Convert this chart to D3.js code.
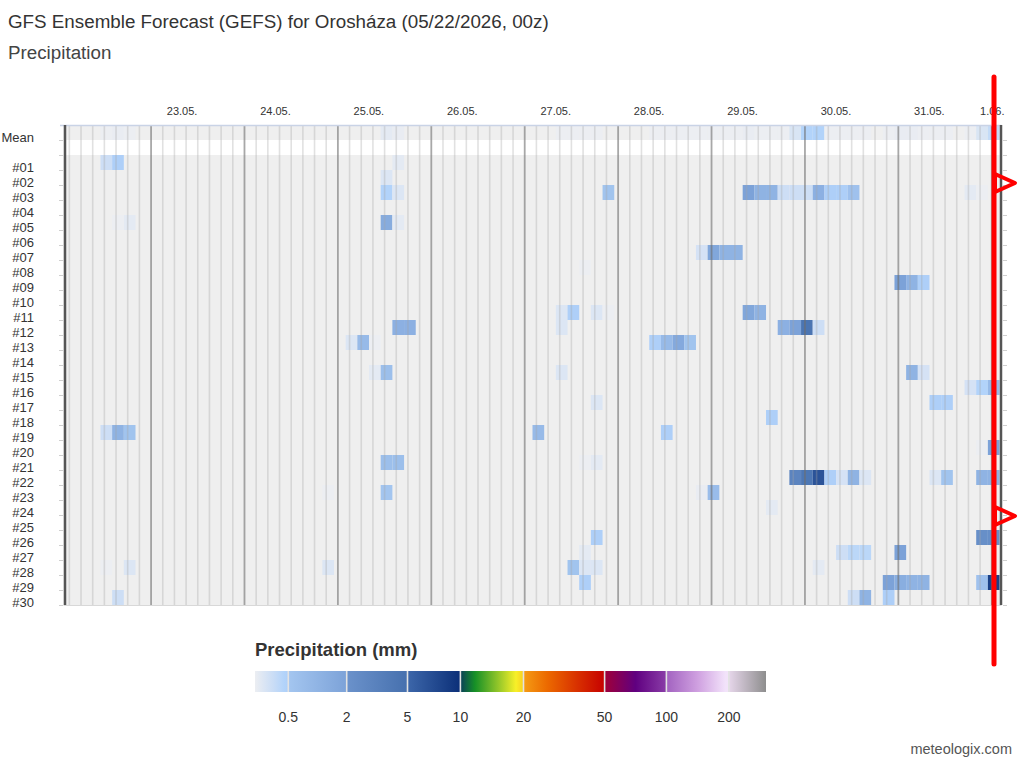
<!DOCTYPE html>
<html><head><meta charset="utf-8">
<script src="https://cdn.jsdelivr.net/npm/d3@7"></script>
<style>
body{margin:0;background:#fff;}
svg{display:block;font-family:"Liberation Sans",Arial,Helvetica,sans-serif;}
</style>
</head><body>
<svg id="chart" width="1024" height="764"></svg>
<script>
// ---------------- DATA ----------------
const titleText = "GFS Ensemble Forecast (GEFS) for Orosháza (05/22/2026, 00z)";
const subtitleText = "Precipitation";
const runTimeUTC = Date.UTC(2026, 4, 22, 0);   // 00z run
const utcOffsetHours = 2;                        // local time (CEST)
const memberNames = ["#01","#02","#03","#04","#05","#06","#07","#08","#09","#10",
  "#11","#12","#13","#14","#15","#16","#17","#18","#19","#20",
  "#21","#22","#23","#24","#25","#26","#27","#28","#29","#30"];

// 3-hourly precipitation (mm), [forecast hour at end of interval, value]
const meanPrecip = [[12,0.05],[15,0.12],[18,0.05],[84,0.15],[87,0.12],
  [129,0.04],[132,0.05],[135,0.05],[138,0.05],[153,0.04],[156,0.05],[159,0.05],[162,0.04],
  [165,0.05],[168,0.08],[171,0.06],[174,0.06],[177,0.12],[180,0.1],[183,0.1],[186,0.1],
  [189,0.22],[192,0.45],[195,0.45],[198,0.08],[201,0.06],[204,0.1],[207,0.08],
  [213,0.08],[216,0.12],[219,0.12],[222,0.1],[225,0.05],[228,0.05],[234,0.05],[237,0.22],[240,0.35]];

const memberPrecip = [
  /*#01*/ [[12,0.3],[15,0.5],[87,0.15]],
  /*#02*/ [[84,0.2]],
  /*#03*/ [[84,0.45],[87,0.2],[141,0.6],[177,2.0],[180,1.3],[183,1.3],[186,0.3],[189,0.3],[192,0.3],[195,1.4],[198,0.5],[201,0.5],[204,0.7],[234,0.15],[237,0.1]],
  /*#04*/ [],
  /*#05*/ [[15,0.08],[18,0.15],[84,1.6],[87,0.15]],
  /*#06*/ [],
  /*#07*/ [[165,0.25],[168,1.8],[171,1.3],[174,1.3]],
  /*#08*/ [[135,0.05]],
  /*#09*/ [[216,2.0],[219,1.3],[222,0.5]],
  /*#10*/ [],
  /*#11*/ [[129,0.2],[132,0.5],[138,0.2],[141,0.08],[177,1.8],[180,1.3]],
  /*#12*/ [[87,1.4],[90,1.4],[129,0.2],[186,1.4],[189,2.0],[192,4.6],[195,0.3]],
  /*#13*/ [[75,0.2],[78,1.0],[81,0.1],[153,0.5],[156,1.0],[159,1.7],[162,0.6]],
  /*#14*/ [],
  /*#15*/ [[81,0.15],[84,0.8],[129,0.2],[219,1.3],[222,0.25]],
  /*#16*/ [[234,0.25],[237,0.45],[240,1.0]],
  /*#17*/ [[138,0.2],[225,0.5],[228,0.5]],
  /*#18*/ [[183,0.5]],
  /*#19*/ [[12,0.3],[15,1.3],[18,0.6],[123,1.0],[156,0.5]],
  /*#20*/ [[237,0.05],[240,2.0]],
  /*#21*/ [[84,0.8],[87,0.8],[135,0.08],[138,0.15]],
  /*#22*/ [[189,3.2],[192,4.4],[195,6.8],[198,0.5],[201,0.25],[204,1.3],[207,0.2],[225,0.2],[228,0.6],[237,1.3],[240,1.3]],
  /*#23*/ [[69,0.05],[84,0.55],[165,0.12],[168,0.9]],
  /*#24*/ [[183,0.15]],
  /*#25*/ [],
  /*#26*/ [[138,0.5],[237,2.3],[240,2.3]],
  /*#27*/ [[135,0.15],[201,0.3],[204,0.4],[207,0.4],[216,2.0]],
  /*#28*/ [[12,0.1],[18,0.2],[69,0.2],[132,0.6],[135,0.2],[138,0.2],[195,0.15]],
  /*#29*/ [[135,0.5],[213,2.0],[216,1.5],[219,1.3],[222,1.3],[237,0.7],[240,8.5]],
  /*#30*/ [[15,0.3],[204,0.3],[207,1.3],[213,0.5]]
];

// colour legend
const legendTitle = "Precipitation (mm)";
const legendTicks = [0.5, 2, 5, 10, 20, 50, 100, 200];
const legendBreaks = [0.1, 0.5, 2, 5, 10, 20, 50, 100, 200, 400];
const colorStops = [
  [0.1,"#eceef2"],[0.33,"#c8dcf6"],[0.45,"#b2d3fa"],[0.5,"#aecff8"],
  [0.501,"#a4c6f0"],[2,"#7ca2d8"],
  [2.001,"#6b92cb"],[5,"#4670ae"],
  [5.001,"#3d67aa"],[10,"#0b2f78"],
  [10.001,"#0a4058"],[12.3,"#169027"],[16.6,"#a8cf2a"],[18.8,"#f8f028"],[20,"#f8d020"],
  [20.001,"#f59c14"],[28.7,"#ec6a00"],[40,"#d83000"],[50,"#c60000"],
  [50.001,"#a00038"],[75,"#600080"],[100,"#8a3da8"],
  [100.001,"#a262c0"],[150,"#cfa0e0"],[194,"#f2e2fa"],[200,"#f2e4f8"],
  [200.001,"#e6d6ea"],[400,"#8e8e8e"]
];
const creditText = "meteologix.com";

// ---------------- LAYOUT ----------------
const svg = d3.select("#chart");
const H = 3600e3;
const plotTop = 125, plotBottom = 605;
const x = d3.scaleUtc()
  .domain([new Date(runTimeUTC - 0.5*H), new Date(runTimeUTC + 240.5*H)])
  .range([63.5, 1001.5]);
const rowKeys = ["Mean", "gap", ...memberNames];
const y = d3.scaleBand().domain(rowKeys).range([plotTop, plotBottom]);

const legendPos = d3.scaleLinear().domain(legendBreaks)
  .range([255, 288.3, 346.7, 407.5, 460.4, 523.5, 604.6, 666.4, 728.9, 766]).clamp(true);
const colorByPos = d3.scaleLinear()
  .domain(colorStops.map(s => legendPos(s[0])))
  .range(colorStops.map(s => s[1])).clamp(true);
const color = v => colorByPos(legendPos(v));

// titles
svg.append("text").attr("x", 8).attr("y", 28).attr("font-size", 18.8).attr("fill", "#333").text(titleText);
svg.append("text").attr("x", 8).attr("y", 59).attr("font-size", 18.8).attr("fill", "#444").text(subtitleText);

// backgrounds
const g = svg.append("g");
g.append("rect").attr("x", x.range()[0]).attr("width", x.range()[1]-x.range()[0])
  .attr("y", y("Mean")).attr("height", y.bandwidth()).attr("fill", "#efefef");
g.append("rect").attr("x", x.range()[0]).attr("width", x.range()[1]-x.range()[0])
  .attr("y", y("gap")).attr("height", y.bandwidth()).attr("fill", "#ffffff");
g.append("rect").attr("x", x.range()[0]).attr("width", x.range()[1]-x.range()[0])
  .attr("y", y(memberNames[0])).attr("height", plotBottom - y(memberNames[0])).attr("fill", "#efefef");

// cells
function drawRow(key, data) {
  g.append("g").selectAll("rect").data(data.filter(d => d[1] > 0)).join("rect")
    .attr("x", d => x(new Date(runTimeUTC + (d[0]-3)*H)))
    .attr("width", d => x(new Date(runTimeUTC + d[0]*H)) - x(new Date(runTimeUTC + (d[0]-3)*H)))
    .attr("y", y(key)).attr("height", y.bandwidth())
    .attr("fill", d => color(d[1]));
}
drawRow("Mean", meanPrecip);
memberPrecip.forEach((row, i) => drawRow(memberNames[i], row));

// grid lines every 3 h local time, day lines at local midnight
const gridTimes = d3.utcHour.every(3).range(new Date(runTimeUTC), new Date(runTimeUTC + 241*H))
  .map(d => new Date(+d - utcOffsetHours*H)).filter(d => d >= x.domain()[0] && d <= x.domain()[1]);
const isMidnight = d => new Date(+d + utcOffsetHours*H).getUTCHours() === 0;
g.append("g").selectAll("line").data(gridTimes.filter(d => !isMidnight(d))).join("line")
  .attr("x1", d => x(d)).attr("x2", d => x(d)).attr("y1", plotTop).attr("y2", plotBottom)
  .attr("stroke", "rgba(165,165,165,0.33)").attr("stroke-width", 1.6);
const dayLines = gridTimes.filter(isMidnight);
g.append("g").selectAll("line").data(dayLines).join("line")
  .attr("x1", d => x(d)).attr("x2", d => x(d)).attr("y1", plotTop).attr("y2", plotBottom)
  .attr("stroke", "rgba(110,110,110,0.6)").attr("stroke-width", 1.8);

// borders
g.append("line").attr("x1", 60).attr("x2", x.range()[1]).attr("y1", plotTop+0.5).attr("y2", plotTop+0.5)
  .attr("stroke", "#c9d3e6").attr("stroke-width", 1.5);
g.append("line").attr("x1", x.range()[0]).attr("x2", x.range()[1]).attr("y1", plotBottom+0.5).attr("y2", plotBottom+0.5)
  .attr("stroke", "#d8d8d8").attr("stroke-width", 1);
g.append("line").attr("x1", 65).attr("x2", 65).attr("y1", plotTop).attr("y2", plotBottom)
  .attr("stroke", "#555").attr("stroke-width", 2.5);
g.append("line").attr("x1", 1001).attr("x2", 1001).attr("y1", plotTop).attr("y2", plotBottom)
  .attr("stroke", "#555").attr("stroke-width", 2.5);

// row ticks on both sides
const rowEdges = rowKeys.slice(1).map(k => y(k)).concat([plotBottom]);
g.append("g").selectAll("line").data(rowEdges).join("line")
  .attr("x1", 59).attr("x2", 63).attr("y1", d => d+0.5).attr("y2", d => d+0.5)
  .attr("stroke", "#cfcfcf").attr("stroke-width", 1);
g.append("g").selectAll("line").data(rowEdges).join("line")
  .attr("x1", 1003).attr("x2", 1007).attr("y1", d => d+0.5).attr("y2", d => d+0.5)
  .attr("stroke", "#cfcfcf").attr("stroke-width", 1);

// row labels
const labelKeys = ["Mean", ...memberNames];
svg.append("g").selectAll("text").data(labelKeys).join("text")
  .attr("x", 34).attr("y", d => y(d) + 16.5).attr("text-anchor", "end")
  .attr("font-size", 13).attr("fill", "#333").text(d => d);

// date labels
const fmt = d3.utcFormat("%-d.%m.");
svg.append("g").selectAll("text").data(dayLines).join("text")
  .attr("font-size", 11).attr("fill", "#333").attr("y", 115)
  .attr("x", d => Math.min(x(d) + 31, 1004.5))
  .attr("text-anchor", d => x(d) + 31 > 1004.5 ? "end" : "middle")
  .text(d => fmt(new Date(+d + utcOffsetHours*H)));

// legend
svg.append("text").attr("x", 255).attr("y", 656).attr("font-size", 18.5).attr("font-weight", "bold")
  .attr("fill", "#333").text(legendTitle);
const grad = svg.append("defs").append("linearGradient").attr("id", "lg")
  .attr("x1", "0%").attr("x2", "100%").attr("y1", "0%").attr("y2", "0%");
const l0 = legendPos.range()[0], l1 = legendPos.range()[legendPos.range().length-1];
colorStops.forEach(s => grad.append("stop")
  .attr("offset", ((legendPos(s[0]) - l0) / (l1 - l0) * 100) + "%").attr("stop-color", s[1]));
svg.append("rect").attr("x", l0).attr("y", 671).attr("width", l1 - l0).attr("height", 21).attr("fill", "url(#lg)");
svg.append("g").selectAll("line").data(legendTicks).join("line")
  .attr("x1", d => legendPos(d)).attr("x2", d => legendPos(d)).attr("y1", 671).attr("y2", 692)
  .attr("stroke", "#e2e2e2").attr("stroke-width", 1.6);
svg.append("g").selectAll("text").data(legendTicks).join("text")
  .attr("x", d => legendPos(d)).attr("y", 722).attr("text-anchor", "middle")
  .attr("font-size", 14).attr("fill", "#333").text(d => d);

svg.append("text").attr("x", 1012).attr("y", 754).attr("text-anchor", "end")
  .attr("font-size", 14.5).attr("fill", "#555").text(creditText);

// red annotation overlay
const ann = svg.append("g").attr("stroke", "#ff0000").attr("fill", "none");
ann.append("line").attr("x1", 994).attr("x2", 994).attr("y1", 77).attr("y2", 664)
  .attr("stroke-width", 5).attr("stroke-linecap", "round");
[183, 516].forEach(cy => ann.append("path")
  .attr("d", `M995,${cy-9}L1015,${cy}L995,${cy+9}Z`)
  .attr("stroke-width", 4).attr("stroke-linejoin", "round"));
</script>
</body></html>
